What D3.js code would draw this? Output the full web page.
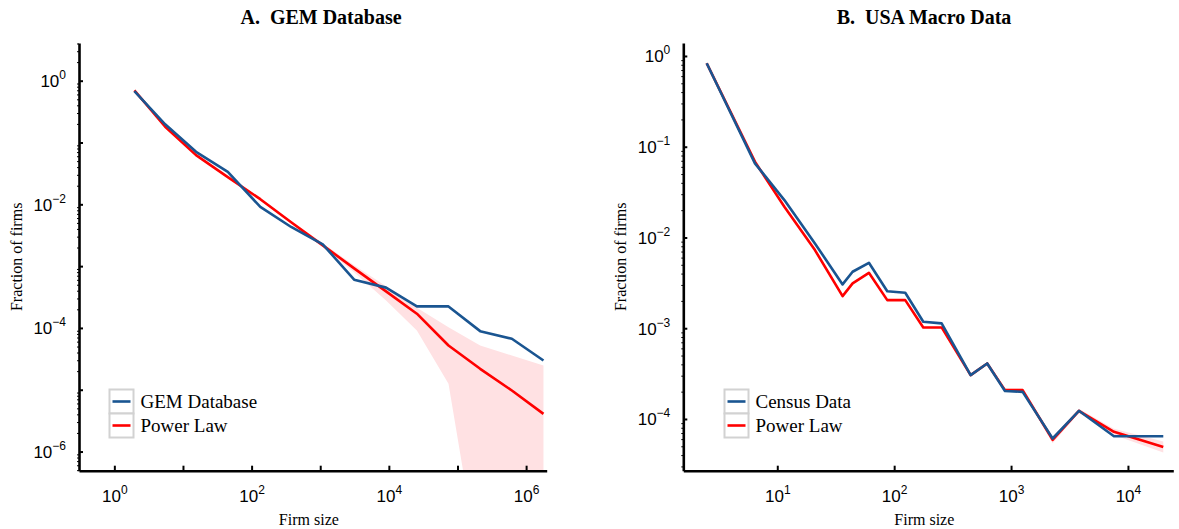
<!DOCTYPE html>
<html>
<head>
<meta charset="utf-8">
<script src="https://cdn.jsdelivr.net/npm/d3@7"></script>
<style>
  html, body { margin: 0; padding: 0; background: #fff; }
  svg { display: block; font-family: "Liberation Serif", "Times New Roman", serif; }
  text { white-space: pre; }
</style>
</head>
<body>
<svg id="chart" width="1179" height="529"></svg>
<script>
// ---------- Panel A: GEM Database ----------
const gemSize   = [1.96, 5.5, 15.5, 45, 134, 377, 1090, 3120, 9100, 25600, 74000, 214000, 620000, 1790000];
const gemFrac   = [0.681, 0.197, 0.0707, 0.0335, 0.00908, 0.0043, 0.00225, 0.000604, 0.000449, 0.000223, 0.000223, 8.87e-5, 6.68e-5, 2.97e-5];
const gemFit    = [0.699, 0.18, 0.0625, 0.0275, 0.0121, 0.00513, 0.00217, 0.00092, 0.000391, 0.00017, 5.2e-5, 2.18e-5, 9.7e-6, 4.07e-6];
const gemFitHi  = [0.72, 0.186, 0.0645, 0.0285, 0.0126, 0.00535, 0.00234, 0.00103, 0.000471, 0.000212, 0.000103, 5.2e-5, 3.58e-5, 2.47e-5];
const gemFitLo  = [0.68, 0.174, 0.0605, 0.0265, 0.0116, 0.00491, 0.00202, 0.000793, 0.000279, 9.1e-5, 1.25e-5, 1.1e-8, 1e-9, 1e-9];

// ---------- Panel B: USA Macro Data ----------
const censusSize  = [2.49, 6.44, 11.5, 21.0, 36.2, 44.1, 60.8, 87.3, 124.4, 177.4, 254.7, 451, 625, 887, 1256, 2268, 3808, 7590, 20060];
const censusFrac  = [0.831, 0.0656, 0.0258, 0.00859, 0.00304, 0.00419, 0.00526, 0.00256, 0.00246, 0.00118, 0.00113, 0.000304, 0.000409, 0.000203, 0.000199, 6.09e-5, 0.000123, 6.46e-5, 6.46e-5];
const censusFit   = [0.831, 0.0684, 0.0218, 0.00726, 0.00226, 0.00312, 0.00408, 0.00204, 0.00204, 0.00102, 0.00102, 0.000304, 0.000409, 0.000208, 0.000208, 5.9e-5, 0.000123, 7.21e-5, 4.92e-5];
const censusFitHi = [0.85, 0.07, 0.0223, 0.00743, 0.00232, 0.0032, 0.00418, 0.00209, 0.00209, 0.00105, 0.00105, 0.000313, 0.000421, 0.000216, 0.000216, 6.4e-5, 0.00013, 7.8e-5, 5.65e-5];
const censusFitLo = [0.81, 0.0668, 0.0213, 0.00709, 0.0022, 0.00304, 0.00398, 0.00199, 0.00199, 0.00099, 0.00099, 0.000295, 0.000397, 0.0002, 0.0002, 5.4e-5, 0.000116, 6.65e-5, 4.28e-5];

// ---------- Tick values ----------
const xTicksA      = [1, 10, 100, 1000, 1e4, 1e5, 1e6];
const xLabelExpA   = [0, 2, 4, 6];
const yTicksA      = [1, 1e-1, 1e-2, 1e-3, 1e-4, 1e-5, 1e-6];
const yLabelExpA   = [0, -2, -4, -6];
const xTicksB      = [10, 100, 1000, 1e4];
const xLabelExpB   = [1, 2, 3, 4];
const yTicksB      = [1, 1e-1, 1e-2, 1e-3, 1e-4];
const yLabelExpB   = [0, -1, -2, -3, -4];

const titles   = ["A.  GEM Database", "B.  USA Macro Data"];
const legendsA = ["GEM Database", "Power Law"];
const legendsB = ["Census Data", "Power Law"];
const xTitle = "Firm size";
const yTitle = "Fraction of firms";

const BLUE = "#1a5591";
const RED = "#ff0000";
const BAND = "#ffe1e3";

const svg = d3.select("#chart");

function panel(cfg) {
  const { id, x, y, sizes, frac, fit, lo, hi, xTicks, xLabExp, yTicks, yLabExp, title, legend, legendX, titleX } = cfg;
  const [x0, x1] = x.range();
  const [y0, y1] = y.range(); // y0 bottom, y1 top
  const g = svg.append("g");

  g.append("clipPath").attr("id", "clip" + id)
    .append("rect").attr("x", x0).attr("y", y1).attr("width", x1 - x0).attr("height", y0 - y1);

  const plot = g.append("g").attr("clip-path", `url(#clip${id})`);

  const band = d3.area()
    .x((d, i) => x(sizes[i]))
    .y0((d, i) => y(lo[i]))
    .y1((d, i) => y(hi[i]));
  plot.append("path").datum(sizes).attr("d", band).attr("fill", BAND).attr("stroke", "none");

  const line = vals => d3.line().x((d, i) => x(sizes[i])).y((d, i) => y(vals[i]));
  plot.append("path").datum(sizes).attr("d", line(fit)).attr("fill", "none")
    .attr("stroke", RED).attr("stroke-width", 2.6).attr("stroke-linejoin", "round");
  plot.append("path").datum(sizes).attr("d", line(frac)).attr("fill", "none")
    .attr("stroke", BLUE).attr("stroke-width", 2.6).attr("stroke-linejoin", "round");

  // minor y ticks
  const dom = y.domain();
  const minor = [];
  for (let e = Math.floor(Math.log10(dom[0])); e <= Math.ceil(Math.log10(dom[1])); e++) {
    for (let m = 2; m <= 9; m++) {
      const v = m * Math.pow(10, e);
      if (v >= dom[0] && v <= dom[1]) minor.push(v);
    }
  }
  g.append("g").attr("transform", `translate(${x0},0)`)
    .call(d3.axisLeft(y).tickValues(minor).tickSizeInner(2).tickSizeOuter(0).tickFormat(() => ""))
    .call(s => s.select(".domain").remove())
    .call(s => s.selectAll("line").attr("stroke", "#000").attr("stroke-width", 1));

  // y axis
  const ya = g.append("g").attr("transform", `translate(${x0},0)`)
    .call(d3.axisLeft(y).tickValues(yTicks).tickSizeInner(-4).tickSizeOuter(0).tickFormat(() => ""));
  ya.select(".domain").attr("stroke", "#000").attr("stroke-width", 2.6);
  ya.selectAll(".tick line").attr("stroke", "#000").attr("stroke-width", 2);
  ya.selectAll(".tick").each(function (d) {
    const e = Math.round(Math.log10(d));
    if (!yLabExp.includes(e)) return;
    const t = d3.select(this).append("text").attr("x", -13).attr("y", 6)
      .attr("text-anchor", "end").attr("fill", "#000").attr("font-size", 17);
    t.append("tspan").text("10");
    t.append("tspan").attr("dy", -8).attr("font-size", 12).text(e < 0 ? "\u2212" + (-e) : String(e));
  });

  // x axis
  const xa = g.append("g").attr("transform", `translate(0,${y0})`)
    .call(d3.axisBottom(x).tickValues(xTicks).tickSizeInner(-5).tickSizeOuter(0).tickFormat(() => ""));
  xa.select(".domain").attr("stroke", "#000").attr("stroke-width", 2.6);
  xa.selectAll(".tick line").attr("stroke", "#000").attr("stroke-width", 2);
  xa.selectAll(".tick").each(function (d) {
    const e = Math.round(Math.log10(d));
    if (!xLabExp.includes(e)) return;
    const t = d3.select(this).append("text").attr("x", 0).attr("y", 31)
      .attr("text-anchor", "middle").attr("fill", "#000").attr("font-size", 17);
    t.append("tspan").text("10");
    t.append("tspan").attr("dy", -8).attr("font-size", 12).text(e < 0 ? "\u2212" + (-e) : String(e));
  });

  // axis titles
  g.append("text").attr("x", (x0 + x1) / 2 - 4).attr("y", 525).attr("text-anchor", "middle")
    .attr("font-size", 16).text(xTitle);
  g.append("text").attr("transform", `translate(${x0 - 57},${(y0 + y1) / 2})rotate(-90)`)
    .attr("text-anchor", "middle").attr("font-size", 16).text(yTitle);

  // title
  g.append("text").attr("x", titleX).attr("y", 24).attr("text-anchor", "middle")
    .attr("font-size", 20).attr("font-weight", "bold").text(title);

  // legend
  const lg = g.append("g").attr("transform", `translate(${legendX},389.5)`);
  [BLUE, RED].forEach((c, i) => {
    lg.append("rect").attr("x", 0).attr("y", i * 24).attr("width", 24).attr("height", 24)
      .attr("fill", "#fff").attr("stroke", "#d2d2d2").attr("stroke-width", 2);
    lg.append("line").attr("x1", 3).attr("x2", 21).attr("y1", i * 24 + 12).attr("y2", i * 24 + 12)
      .attr("stroke", c).attr("stroke-width", 2.6);
    lg.append("text").attr("x", 31).attr("y", i * 24 + 18.5).attr("font-size", 19).text(legend[i]);
  });
}

const xA = d3.scaleLog().domain([Math.pow(10, -0.515), Math.pow(10, 6.30)]).range([79, 546.7]);
const yA = d3.scaleLog().domain([Math.pow(10, -6.31), Math.pow(10, 0.61)]).range([470.7, 43]);
const xB = d3.scaleLog().domain([Math.pow(10, 0.196), Math.pow(10, 4.388)]).range([683.3, 1173.3]);
const yB = d3.scaleLog().domain([Math.pow(10, -4.57), Math.pow(10, 0.143)]).range([470.7, 43]);

panel({ id: "A", x: xA, y: yA, sizes: gemSize, frac: gemFrac, fit: gemFit, lo: gemFitLo, hi: gemFitHi,
  xTicks: xTicksA, xLabExp: xLabelExpA, yTicks: yTicksA, yLabExp: yLabelExpA,
  title: titles[0], legend: legendsA, legendX: 109.5, titleX: 321 });
panel({ id: "B", x: xB, y: yB, sizes: censusSize, frac: censusFrac, fit: censusFit, lo: censusFitLo, hi: censusFitHi,
  xTicks: xTicksB, xLabExp: xLabelExpB, yTicks: yTicksB, yLabExp: yLabelExpB,
  title: titles[1], legend: legendsB, legendX: 724.5, titleX: 924 });
</script>
</body>
</html>
